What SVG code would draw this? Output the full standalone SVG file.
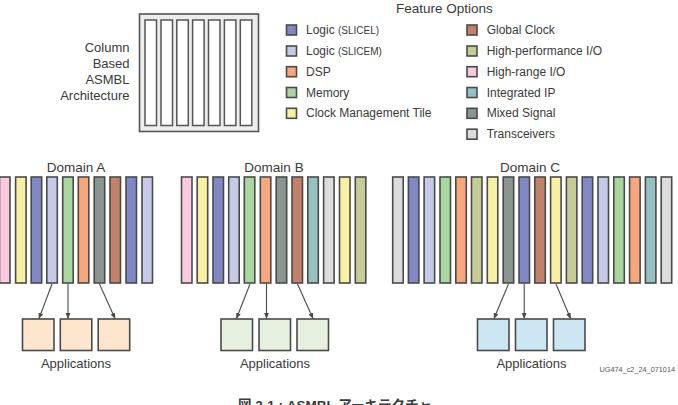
<svg xmlns="http://www.w3.org/2000/svg" width="678" height="405" viewBox="0 0 678 405">
<style>
text{font-family:"Liberation Sans",Arial,sans-serif;fill:#3a3a3a}
.col{stroke:#4a4a4a;stroke-width:1.6}
.sw{stroke:#4a4a4a;stroke-width:1.6}
.lg{font-size:12px}
.sm{font-size:10px}
.dom{font-size:13.5px;text-anchor:middle}
.app{stroke:#4a4a4a;stroke-width:1.6}
.a{fill:#fde6cd}.b{fill:#e6f0df}.c{fill:#cde6f3}
.L1{fill:#8088c6}.L2{fill:#c6c9e8}.DSP{fill:#f8a77c}.MEM{fill:#aad79f}.CMT{fill:#f7efa2}
.GC{fill:#c2826a}.HP{fill:#c7cc97}.HR{fill:#f9c9df}.IP{fill:#95c2c1}.MS{fill:#8b9691}.TR{fill:#dcdcdc}
.conn{stroke:#4a4a4a;stroke-width:1.1;fill:none;marker-end:url(#ah)}
</style>
<defs>
<marker id="ah" viewBox="0 0 10 10" refX="9" refY="5" markerWidth="6" markerHeight="6" orient="auto" markerUnits="userSpaceOnUse">
<path d="M0,1 L10,5 L0,9 z" fill="#4a4a4a"/>
</marker>
</defs>

<g id="asmbl">
<text x="129.5" y="51.5" font-size="13" text-anchor="end">Column</text>
<text x="129.5" y="67.5" font-size="13" text-anchor="end">Based</text>
<text x="129.5" y="84" font-size="13" text-anchor="end">ASMBL</text>
<text x="129.5" y="100" font-size="13" text-anchor="end">Architecture</text>
<rect x="139.5" y="14" width="119" height="117.5" fill="#ededed" stroke="#555" stroke-width="1.6"/>
<g fill="#fff" stroke="#555" stroke-width="1.5">
<rect x="145" y="20" width="11.5" height="105.5"/>
<rect x="161" y="20" width="11.5" height="105.5"/>
<rect x="176.8" y="20" width="11.5" height="105.5"/>
<rect x="192.6" y="20" width="11.5" height="105.5"/>
<rect x="208.5" y="20" width="11.5" height="105.5"/>
<rect x="224.4" y="20" width="11.5" height="105.5"/>
<rect x="240.3" y="20" width="11.5" height="105.5"/>
</g>
</g>

<g id="legend">
<text x="396" y="13" font-size="13.5">Feature Options</text>
<rect class="sw L1" x="286.5" y="25" width="10" height="10"/><text class="lg" x="306" y="34">Logic <tspan class="sm">(SLICEL)</tspan></text>
<rect class="sw L2" x="286.5" y="46" width="10" height="10"/><text class="lg" x="306" y="55">Logic <tspan class="sm">(SLICEM)</tspan></text>
<rect class="sw DSP" x="286.5" y="66.7" width="10" height="10"/><text class="lg" x="306" y="75.7">DSP</text>
<rect class="sw MEM" x="286.5" y="87.5" width="10" height="10"/><text class="lg" x="306" y="96.5">Memory</text>
<rect class="sw CMT" x="286.5" y="108.3" width="10" height="10"/><text class="lg" x="306" y="117.3">Clock Management Tile</text>
<rect class="sw GC" x="467" y="25" width="10" height="10"/><text class="lg" x="486.7" y="34">Global Clock</text>
<rect class="sw HP" x="467" y="46" width="10" height="10"/><text class="lg" x="486.7" y="55">High-performance I/O</text>
<rect class="sw HR" x="467" y="66.7" width="10" height="10"/><text class="lg" x="486.7" y="75.7">High-range I/O</text>
<rect class="sw IP" x="467" y="87.5" width="10" height="10"/><text class="lg" x="486.7" y="96.5">Integrated IP</text>
<rect class="sw MS" x="467" y="108.3" width="10" height="10"/><text class="lg" x="486.7" y="117.3">Mixed Signal</text>
<rect class="sw TR" x="467" y="129.2" width="10" height="10"/><text class="lg" x="486.7" y="138.2">Transceivers</text>
</g>

<g id="domainA">
<text class="dom" x="76" y="171.5">Domain A</text>
<rect class="col HR" x="-0.5" y="177" width="10.5" height="106"/>
<rect class="col CMT" x="15.6" y="177" width="10.5" height="106"/>
<rect class="col L1" x="31.2" y="177" width="10.5" height="106"/>
<rect class="col L2" x="46.8" y="177" width="10.5" height="106"/>
<rect class="col MEM" x="62.7" y="177" width="10.5" height="106"/>
<rect class="col DSP" x="78.3" y="177" width="10.5" height="106"/>
<rect class="col MS" x="94.2" y="177" width="10.5" height="106"/>
<rect class="col GC" x="110" y="177" width="10.5" height="106"/>
<rect class="col L1" x="126" y="177" width="10.5" height="106"/>
<rect class="col L2" x="142" y="177" width="10.5" height="106"/>
</g>

<g id="domainB">
<text class="dom" x="274" y="171.5">Domain B</text>
<rect class="col HR" x="181.5" y="177" width="10.5" height="106"/>
<rect class="col CMT" x="197.2" y="177" width="10.5" height="106"/>
<rect class="col L1" x="213" y="177" width="10.5" height="106"/>
<rect class="col L2" x="228.7" y="177" width="10.5" height="106"/>
<rect class="col MEM" x="244.3" y="177" width="10.5" height="106"/>
<rect class="col DSP" x="260.3" y="177" width="10.5" height="106"/>
<rect class="col MS" x="276.2" y="177" width="10.5" height="106"/>
<rect class="col GC" x="292" y="177" width="10.5" height="106"/>
<rect class="col IP" x="307.8" y="177" width="10.5" height="106"/>
<rect class="col TR" x="323.6" y="177" width="10.5" height="106"/>
<rect class="col CMT" x="339.5" y="177" width="10.5" height="106"/>
<rect class="col HP" x="355.3" y="177" width="10.5" height="106"/>
</g>

<g id="domainC">
<text class="dom" x="530" y="171.5">Domain C</text>
<rect class="col TR" x="392.7" y="177" width="10.5" height="106"/>
<rect class="col L1" x="408.4" y="177" width="10.5" height="106"/>
<rect class="col L2" x="424.1" y="177" width="10.5" height="106"/>
<rect class="col MEM" x="440" y="177" width="10.5" height="106"/>
<rect class="col DSP" x="455.8" y="177" width="10.5" height="106"/>
<rect class="col HP" x="471.5" y="177" width="10.5" height="106"/>
<rect class="col CMT" x="487.3" y="177" width="10.5" height="106"/>
<rect class="col MS" x="503.2" y="177" width="10.5" height="106"/>
<rect class="col L1" x="519" y="177" width="10.5" height="106"/>
<rect class="col GC" x="534.8" y="177" width="10.5" height="106"/>
<rect class="col CMT" x="550.6" y="177" width="10.5" height="106"/>
<rect class="col HP" x="566.4" y="177" width="10.5" height="106"/>
<rect class="col L1" x="582.2" y="177" width="10.5" height="106"/>
<rect class="col L2" x="598" y="177" width="10.5" height="106"/>
<rect class="col MEM" x="613.8" y="177" width="10.5" height="106"/>
<rect class="col DSP" x="629.6" y="177" width="10.5" height="106"/>
<rect class="col IP" x="645.4" y="177" width="10.5" height="106"/>
<rect class="col TR" x="661.2" y="177" width="10.5" height="106"/>
</g>

<g id="connectors">
<line class="conn" x1="52" y1="284" x2="39" y2="318.5"/>
<line class="conn" x1="68" y1="284" x2="68" y2="318.5"/>
<line class="conn" x1="99.5" y1="284" x2="115" y2="318.5"/>
<line class="conn" x1="250" y1="284" x2="236.5" y2="318.5"/>
<line class="conn" x1="266.5" y1="284" x2="266.5" y2="318.5"/>
<line class="conn" x1="297.5" y1="284" x2="313" y2="318.5"/>
<line class="conn" x1="508.5" y1="284" x2="494" y2="318.5"/>
<line class="conn" x1="524.2" y1="284" x2="524.2" y2="318.5"/>
<line class="conn" x1="556" y1="284" x2="570.5" y2="318.5"/>
</g>

<g id="appsA">
<rect class="app a" x="22.5" y="319" width="31.5" height="31.5"/>
<rect class="app a" x="60.3" y="319" width="31.5" height="31.5"/>
<rect class="app a" x="98.2" y="319" width="31.5" height="31.5"/>
<text x="76" y="368" font-size="13" text-anchor="middle">Applications</text>
</g>
<g id="appsB">
<rect class="app b" x="221" y="319" width="31.5" height="31.5"/>
<rect class="app b" x="259" y="319" width="31.5" height="31.5"/>
<rect class="app b" x="297" y="319" width="31.5" height="31.5"/>
<text x="275" y="368" font-size="13" text-anchor="middle">Applications</text>
</g>
<g id="appsC">
<rect class="app c" x="477.5" y="319" width="31.5" height="31.5"/>
<rect class="app c" x="515.5" y="319" width="31.5" height="31.5"/>
<rect class="app c" x="553.5" y="319" width="31.5" height="31.5"/>
<text x="531.5" y="368" font-size="13" text-anchor="middle">Applications</text>
</g>

<text x="675" y="371.5" font-size="7.3" text-anchor="end" style="fill:#555">UG474_c2_24_071014</text>
<text x="238" y="410" font-size="13.5" font-weight="bold" style="font-family:'Liberation Sans','Noto Sans CJK JP',sans-serif">図 2-1 : ASMBL アーキテクチャ</text>
</svg>
